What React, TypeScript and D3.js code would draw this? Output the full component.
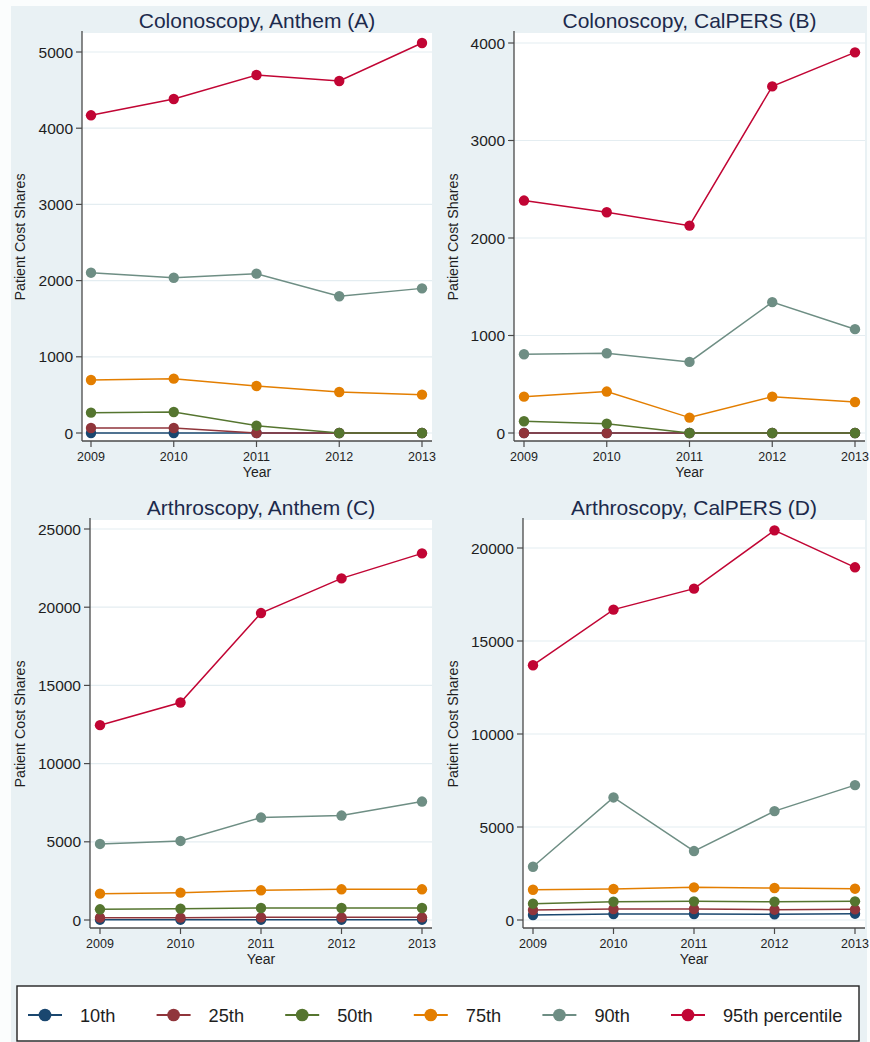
import React from "react";
import * as d3 from "d3";

// ---------- data ----------
const years = [2009, 2010, 2011, 2012, 2013];
const seriesNames = ["10th", "25th", "50th", "75th", "90th", "95th percentile"];
const seriesColors = ["#1a476f", "#90353b", "#55752f", "#e37e00", "#6e8e84", "#c10534"];

// rows: 10th, 25th, 50th, 75th, 90th, 95th
const colonoscopyAnthem = [
  [0, 0, 0, 0, 0],
  [66, 66, 0, 0, 0],
  [267, 276, 96, 0, 0],
  [696, 713, 617, 538, 503],
  [2104, 2038, 2091, 1794, 1898],
  [4169, 4383, 4698, 4619, 5118],
];
const colonoscopyCalpers = [
  [0, 0, 0, 0, 0],
  [0, 0, 0, 0, 0],
  [120, 96, 0, 0, 0],
  [373, 425, 158, 373, 318],
  [808, 818, 729, 1342, 1065],
  [2384, 2264, 2127, 3555, 3904],
];
const arthroscopyAnthem = [
  [20, 20, 20, 20, 20],
  [149, 149, 171, 171, 171],
  [683, 725, 768, 768, 768],
  [1685, 1749, 1898, 1962, 1962],
  [4863, 5055, 6549, 6677, 7573],
  [12457, 13908, 19625, 21843, 23443],
];
const arthroscopyCalpers = [
  [269, 322, 322, 304, 340],
  [537, 591, 591, 555, 573],
  [877, 985, 1003, 985, 1003],
  [1629, 1665, 1755, 1719, 1683],
  [2865, 6589, 3706, 5855, 7252],
  [13697, 16688, 17815, 20949, 18962],
];

const ticksA = [0, 1000, 2000, 3000, 4000, 5000];
const ticksB = [0, 1000, 2000, 3000, 4000];
const ticksC = [0, 5000, 10000, 15000, 20000, 25000];
const ticksD = [0, 5000, 10000, 15000, 20000];

const titles = [
  "Colonoscopy, Anthem (A)",
  "Colonoscopy, CalPERS (B)",
  "Arthroscopy, Anthem (C)",
  "Arthroscopy, CalPERS (D)",
];

// ---------- layout ----------
const FONT = "'Liberation Sans', Arial, Helvetica, sans-serif";
const BG = "#e9f1f4";
const GRID = "#e4edf1";
const AXIS = "#4a4a4a";

type Panel = {
  title: string;
  data: number[][];
  ticks: number[];
  left: number; right: number; top: number; bottom: number;
  xFirst: number; xLast: number;
  yZero: number; yTopTick: number;
  yTitleX: number;
};

const panels: Panel[] = [
  { title: titles[0], data: colonoscopyAnthem, ticks: ticksA, left: 82, right: 432, top: 33, bottom: 441, xFirst: 91, xLast: 422, yZero: 433, yTopTick: 52, yTitleX: 20 },
  { title: titles[1], data: colonoscopyCalpers, ticks: ticksB, left: 514, right: 865, top: 33, bottom: 441, xFirst: 524, xLast: 855, yZero: 433, yTopTick: 43, yTitleX: 453 },
  { title: titles[2], data: arthroscopyAnthem, ticks: ticksC, left: 90, right: 432, top: 520, bottom: 928, xFirst: 100, xLast: 422, yZero: 920, yTopTick: 529, yTitleX: 20 },
  { title: titles[3], data: arthroscopyCalpers, ticks: ticksD, left: 523, right: 865, top: 520, bottom: 928, xFirst: 533, xLast: 855, yZero: 920, yTopTick: 548, yTitleX: 453 },
];

function PanelView({ p }: { p: Panel }) {
  const x = d3.scaleLinear().domain([years[0], years[years.length - 1]]).range([p.xFirst, p.xLast]);
  const y = d3.scaleLinear().domain([0, p.ticks[p.ticks.length - 1]]).range([p.yZero, p.yTopTick]);
  const line = d3
    .line<number>()
    .x((_, i) => x(years[i]))
    .y((v) => y(v));
  const cx = (p.left + p.right) / 2;
  const cy = (p.top + p.bottom) / 2;
  return (
    <g>
      <rect x={p.left} y={p.top} width={p.right - p.left} height={p.bottom - p.top} fill="#ffffff" />
      {p.ticks.map((t) => (
        <line key={"g" + t} x1={p.left} x2={p.right} y1={y(t)} y2={y(t)} stroke={GRID} strokeWidth={1.2} />
      ))}
      {/* axes */}
      <line x1={p.left} x2={p.left} y1={p.top - 2} y2={p.bottom} stroke={AXIS} strokeWidth={1.3} />
      <line x1={p.left} x2={p.right} y1={p.bottom} y2={p.bottom} stroke={AXIS} strokeWidth={1.3} />
      {p.ticks.map((t) => (
        <g key={"t" + t}>
          <line x1={p.left - 6} x2={p.left} y1={y(t)} y2={y(t)} stroke={AXIS} strokeWidth={1.2} />
          <text x={p.left - 9} y={y(t)} dy="0.36em" textAnchor="end" fontSize={15.5} fill="#1e1e1e" fontFamily={FONT}>
            {t}
          </text>
        </g>
      ))}
      {years.map((yr) => (
        <g key={"x" + yr}>
          <line x1={x(yr)} x2={x(yr)} y1={p.bottom} y2={p.bottom + 6} stroke={AXIS} strokeWidth={1.2} />
          <text x={x(yr)} y={p.bottom + 15} dy="0.36em" textAnchor="middle" fontSize={12.5} fill="#1e1e1e" fontFamily={FONT}>
            {yr}
          </text>
        </g>
      ))}
      <text x={cx} y={p.bottom + 31} dy="0.36em" textAnchor="middle" fontSize={14} fill="#1e1e1e" fontFamily={FONT}>
        Year
      </text>
      <text
        transform={`translate(${p.yTitleX},${cy}) rotate(-90)`}
        textAnchor="middle"
        dy="0.36em"
        fontSize={14.3}
        fill="#1e1e1e"
        fontFamily={FONT}
      >
        Patient Cost Shares
      </text>
      <text x={cx} y={p.top - 13} dy="0.36em" textAnchor="middle" fontSize={21} fill="#1c2a4c" fontFamily={FONT}>
        {p.title}
      </text>
      {/* series */}
      {p.data.map((vals, si) => (
        <g key={"s" + si}>
          <path d={line(vals) || ""} fill="none" stroke={seriesColors[si]} strokeWidth={1.5} />
          {vals.map((v, i) => (
            <circle key={i} cx={x(years[i])} cy={y(v)} r={5.2} fill={seriesColors[si]} />
          ))}
        </g>
      ))}
    </g>
  );
}

// legend layout
const legendTextWidths = [35, 35, 35, 35, 35, 124];

export default function App() {
  const legendY = 1015;
  let cursor = 45;
  const legendItems = seriesNames.map((name, i) => {
    const m = cursor;
    cursor = m + 35 + legendTextWidths[i] + 41.6 + 17;
    return { name, m, color: seriesColors[i] };
  });
  return (
    <svg width={870} height={1042} style={{ position: "absolute", left: 0, top: 0 }} xmlns="http://www.w3.org/2000/svg">
      <rect x={0} y={0} width={870} height={1042} fill="#fbfdfd" />
      <rect x={11} y={6} width={856} height={1036} fill={BG} />
      {panels.map((p, i) => (
        <PanelView key={i} p={p} />
      ))}
      <rect x={17} y={986} width={842} height={55} fill="#ffffff" stroke="#222" strokeWidth={1.4} />
      {legendItems.map((it) => (
        <g key={it.name}>
          <line x1={it.m - 17} x2={it.m + 17} y1={legendY} y2={legendY} stroke={it.color} strokeWidth={1.8} />
          <circle cx={it.m} cy={legendY} r={6.3} fill={it.color} />
          <text x={it.m + 35} y={legendY} dy="0.36em" fontSize={18.2} fill="#1e1e1e" fontFamily={FONT}>
            {it.name}
          </text>
        </g>
      ))}
    </svg>
  );
}
